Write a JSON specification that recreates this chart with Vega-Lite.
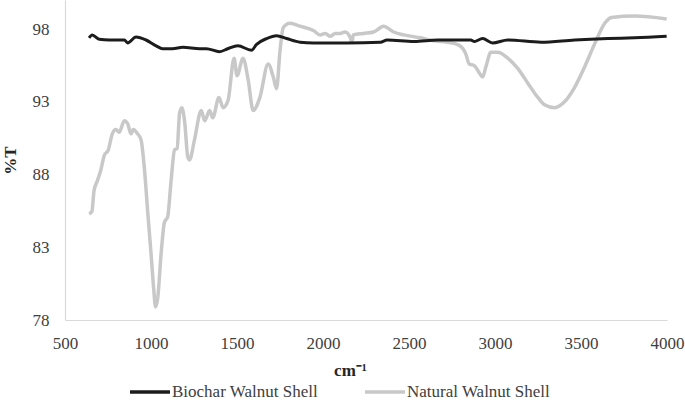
{
  "$schema": "https://vega.github.io/schema/vega-lite/v6.json",
  "width": 602,
  "height": 320,
  "autosize": {"type": "none"},
  "padding": {"left": 65, "top": 0, "right": 18, "bottom": 82},
  "background": "white",
  "config": {
    "view": {"stroke": null},
    "font": "Liberation Serif"
  },
  "datasets": {
    "natural": [
      {"w": 640, "v": 85.3}, {"w": 656, "v": 85.45}, {"w": 669, "v": 86.9}, {"w": 689, "v": 87.6},
      {"w": 708, "v": 88.3}, {"w": 728, "v": 89.3}, {"w": 752, "v": 89.7}, {"w": 775, "v": 90.8},
      {"w": 796, "v": 91.1}, {"w": 815, "v": 90.9}, {"w": 845, "v": 91.7}, {"w": 864, "v": 91.5},
      {"w": 884, "v": 90.8}, {"w": 897, "v": 91.1}, {"w": 922, "v": 90.8}, {"w": 942, "v": 90.4},
      {"w": 961, "v": 88.5}, {"w": 981, "v": 85.4}, {"w": 1000, "v": 82.6}, {"w": 1016, "v": 80.1},
      {"w": 1026, "v": 78.9}, {"w": 1039, "v": 79.5}, {"w": 1059, "v": 82.6}, {"w": 1078, "v": 84.7},
      {"w": 1097, "v": 85.1}, {"w": 1117, "v": 87.6}, {"w": 1137, "v": 89.7}, {"w": 1152, "v": 89.8},
      {"w": 1166, "v": 92.2}, {"w": 1179, "v": 92.6}, {"w": 1195, "v": 91.7}, {"w": 1214, "v": 89.2},
      {"w": 1224, "v": 89.0}, {"w": 1253, "v": 90.4}, {"w": 1292, "v": 92.4}, {"w": 1312, "v": 91.7},
      {"w": 1341, "v": 92.4}, {"w": 1359, "v": 91.9}, {"w": 1395, "v": 93.3}, {"w": 1419, "v": 92.6},
      {"w": 1448, "v": 93.1}, {"w": 1483, "v": 96.0}, {"w": 1500, "v": 94.8}, {"w": 1535, "v": 96.0},
      {"w": 1565, "v": 94.5}, {"w": 1594, "v": 92.4}, {"w": 1633, "v": 93.3}, {"w": 1681, "v": 95.6},
      {"w": 1711, "v": 94.7}, {"w": 1730, "v": 93.9}, {"w": 1750, "v": 96.5}, {"w": 1769, "v": 98.1},
      {"w": 1808, "v": 98.4}, {"w": 1867, "v": 98.2}, {"w": 1944, "v": 97.9}, {"w": 1983, "v": 97.6},
      {"w": 2013, "v": 97.7}, {"w": 2042, "v": 97.5}, {"w": 2071, "v": 97.7}, {"w": 2100, "v": 97.7},
      {"w": 2129, "v": 97.8}, {"w": 2159, "v": 97.4}, {"w": 2168, "v": 97.1}, {"w": 2176, "v": 97.6},
      {"w": 2235, "v": 97.7}, {"w": 2294, "v": 97.8}, {"w": 2334, "v": 98.1}, {"w": 2352, "v": 98.2},
      {"w": 2411, "v": 97.8}, {"w": 2470, "v": 97.6}, {"w": 2567, "v": 97.4}, {"w": 2643, "v": 97.2},
      {"w": 2723, "v": 97.1}, {"w": 2790, "v": 96.9}, {"w": 2830, "v": 96.3}, {"w": 2850, "v": 95.6},
      {"w": 2879, "v": 95.5}, {"w": 2908, "v": 95.0}, {"w": 2928, "v": 94.7}, {"w": 2947, "v": 95.4},
      {"w": 2976, "v": 96.4}, {"w": 3015, "v": 96.4}, {"w": 3074, "v": 96.0}, {"w": 3132, "v": 95.3},
      {"w": 3190, "v": 94.3}, {"w": 3249, "v": 93.3}, {"w": 3288, "v": 92.8}, {"w": 3346, "v": 92.6},
      {"w": 3404, "v": 93.0}, {"w": 3463, "v": 94.0}, {"w": 3521, "v": 95.4}, {"w": 3580, "v": 97.0},
      {"w": 3638, "v": 98.4}, {"w": 3677, "v": 98.8}, {"w": 3813, "v": 98.9}, {"w": 3998, "v": 98.7}
    ],
    "biochar": [
      {"w": 640, "v": 97.4}, {"w": 658, "v": 97.6}, {"w": 699, "v": 97.3}, {"w": 757, "v": 97.25},
      {"w": 845, "v": 97.25}, {"w": 864, "v": 97.05}, {"w": 913, "v": 97.45}, {"w": 971, "v": 97.25},
      {"w": 1030, "v": 96.85}, {"w": 1067, "v": 96.65}, {"w": 1125, "v": 96.65}, {"w": 1185, "v": 96.75},
      {"w": 1283, "v": 96.65}, {"w": 1322, "v": 96.65}, {"w": 1399, "v": 96.45}, {"w": 1446, "v": 96.65},
      {"w": 1505, "v": 96.85}, {"w": 1584, "v": 96.55}, {"w": 1614, "v": 96.95}, {"w": 1672, "v": 97.35},
      {"w": 1730, "v": 97.55}, {"w": 1789, "v": 97.35}, {"w": 1867, "v": 97.1}, {"w": 1944, "v": 97.05},
      {"w": 2139, "v": 97.05}, {"w": 2334, "v": 97.1}, {"w": 2373, "v": 97.25}, {"w": 2529, "v": 97.15},
      {"w": 2667, "v": 97.25}, {"w": 2859, "v": 97.25}, {"w": 2880, "v": 97.15}, {"w": 2928, "v": 97.35},
      {"w": 2986, "v": 97.05}, {"w": 3074, "v": 97.25}, {"w": 3268, "v": 97.1}, {"w": 3463, "v": 97.25},
      {"w": 3657, "v": 97.35}, {"w": 3813, "v": 97.4}, {"w": 3998, "v": 97.5}
    ]
  },
  "layer": [
    {
      "data": {"name": "natural"},
      "transform": [{"calculate": "'Natural Walnut Shell'", "as": "series"}],
      "mark": {"type": "line", "strokeWidth": 3.5, "interpolate": "monotone"},
      "encoding": {
        "x": {"field": "w", "type": "quantitative"},
        "y": {"field": "v", "type": "quantitative"},
        "color": {"field": "series", "type": "nominal"}
      }
    },
    {
      "data": {"name": "biochar"},
      "transform": [{"calculate": "'Biochar Walnut Shell'", "as": "series"}],
      "mark": {"type": "line", "strokeWidth": 3, "interpolate": "monotone"},
      "encoding": {
        "x": {
          "field": "w", "type": "quantitative",
          "scale": {"domain": [500, 4000], "nice": false, "zero": false},
          "axis": {
            "values": [500, 1000, 1500, 2000, 2500, 3000, 3500, 4000],
            "format": "d",
            "title": "cm⁻¹",
            "grid": false, "ticks": false,
            "domainColor": "#d9d9d9", "domainWidth": 1.2,
            "labelFont": "Liberation Serif", "labelFontSize": 17, "labelColor": "#404040",
            "labelBaseline": "alphabetic", "labelPadding": 28, "labelFlush": false,
            "titleFont": "Liberation Serif", "titleFontSize": 17, "titleFontWeight": "bold", "titleColor": "#262626",
            "titleX": 285, "titleY": 55, "titleBaseline": "alphabetic", "titleAlign": "center"
          }
        },
        "y": {
          "field": "v", "type": "quantitative",
          "scale": {"domain": [78, 100], "nice": false, "zero": false},
          "axis": {
            "values": [78, 83, 88, 93, 98],
            "title": "%T",
            "grid": false, "ticks": false,
            "domainColor": "#d9d9d9", "domainWidth": 1.2,
            "labelFont": "Liberation Serif", "labelFontSize": 17, "labelColor": "#404040",
            "labelPadding": 16,
            "titleFont": "Liberation Serif", "titleFontSize": 17, "titleFontWeight": "bold", "titleColor": "#262626",
            "titleX": -55, "titleY": 160, "titleAngle": -90, "titleBaseline": "middle", "titleAlign": "center"
          }
        },
        "color": {
          "field": "series", "type": "nominal",
          "scale": {"domain": ["Biochar Walnut Shell", "Natural Walnut Shell"], "range": ["#1c1c1c", "#c8c8c8"]},
          "legend": {
            "orient": "none", "legendX": 63, "legendY": 370, "direction": "horizontal",
            "title": null, "symbolType": "stroke", "symbolSize": 1600, "symbolStrokeWidth": 3.5,
            "labelFont": "Liberation Serif", "labelFontSize": 17, "labelColor": "#404040",
            "labelOffset": 0, "columnPadding": 40
          }
        }
      }
    }
  ]
}
